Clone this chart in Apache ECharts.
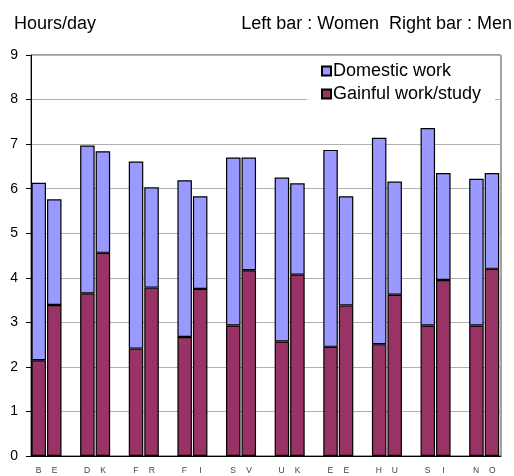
<!DOCTYPE html>
<html>
<head>
<meta charset="utf-8">
<script src="https://cdn.jsdelivr.net/npm/echarts@6/dist/echarts.min.js"></script>
<style>
html,body{margin:0;padding:0;background:#fff;}
#chart{width:514px;height:476px;}
</style>
</head>
<body>
<div id="chart"></div>
<script>
// Countries (two-letter codes)
const categories = ['BE','DK','FR','FI','SV','UK','EE','HU','SI','NO'];
// Hours/day, women (left bar)
const womenGainful  = [2.15, 3.65, 2.41, 2.67, 2.93, 2.57, 2.45, 2.51, 2.93, 2.93];
const womenDomestic = [3.98, 3.32, 4.20, 3.52, 3.77, 3.68, 4.42, 4.63, 4.43, 3.29];
// Hours/day, men (right bar)
const menGainful    = [3.39, 4.56, 3.78, 3.75, 4.17, 4.07, 3.38, 3.62, 3.95, 4.20];
const menDomestic   = [2.37, 2.28, 2.25, 2.08, 2.53, 2.05, 2.45, 2.54, 2.40, 2.15];
// Y ticks
const yMin = 0, yMax = 9, yStep = 1;

const FONT = 'Liberation Sans, Arial, sans-serif';
const COL_DOM = '#9999FF';
const COL_GAIN = '#993366';

const chart = echarts.init(document.getElementById('chart'), null, {renderer: 'canvas'});

function barSeries(name, stack, data, color) {
  return {
    name: name, type: 'bar', stack: stack,
    xAxisIndex: 1, yAxisIndex: 1,
    barWidth: 14.5, barGap: '7%',
    data: data,
    itemStyle: {color: color, borderColor: '#000', borderWidth: 1.2},
    emphasis: {disabled: true},
    animation: false
  };
}

const option = {
  animation: false,
  textStyle: {fontFamily: FONT},
  graphic: [
    {type: 'text', left: 14, top: 15, style: {text: 'Hours/day', font: '18px ' + FONT, fill: '#000'}},
    {type: 'text', right: 2, top: 15, style: {text: 'Left bar : Women  Right bar : Men', font: '18px ' + FONT, fill: '#000'}}
  ],
  grid: [
    {left: 31, right: 13, top: 55, bottom: 20, show: true, borderColor: '#444', borderWidth: 1, backgroundColor: 'transparent'},
    {left: 22.2, right: 5.5, top: 55, bottom: 20}
  ],
  legend: {
    data: ['Domestic work', 'Gainful work/study'],
    orient: 'vertical',
    left: 307, top: 57,
    padding: [5, 14, 8, 14],
    icon: 'rect',
    itemWidth: 9, itemHeight: 9, itemGap: 5,
    backgroundColor: '#fff',
    textStyle: {fontSize: 18, fontFamily: FONT, color: '#000', padding: [0, 0, 0, -3]},
    selectedMode: false
  },
  xAxis: [
    {type: 'value', gridIndex: 0, min: 0, max: 1,
     axisLine: {show: true, lineStyle: {color: '#000', width: 1}},
     axisTick: {show: false}, axisLabel: {show: false}, splitLine: {show: false}},
    {type: 'category', gridIndex: 1, data: categories,
     axisLine: {show: false}, axisTick: {show: false},
     axisLabel: {
       interval: 0, margin: 10,
       formatter: function (v) { return v.split('').map(c => '{a|' + c + '}').join(''); },
       rich: {a: {width: 16, align: 'center', fontSize: 8.5, color: '#444', fontFamily: FONT}}
     }}
  ],
  yAxis: [
    {type: 'value', gridIndex: 0, min: yMin, max: yMax, interval: yStep,
     axisLine: {show: true, lineStyle: {color: '#000', width: 1}},
     axisTick: {show: true, inside: false, length: 5, lineStyle: {color: '#000'}},
     axisLabel: {fontSize: 14, color: '#000', margin: 13, fontFamily: FONT},
     splitLine: {show: true, lineStyle: {color: '#b0b0b0', width: 1}}},
    {type: 'value', gridIndex: 1, min: yMin, max: yMax, interval: yStep, show: false,
     splitLine: {show: false}}
  ],
  series: [
    barSeries('Gainful work/study', 'W', womenGainful, COL_GAIN),
    barSeries('Domestic work', 'W', womenDomestic, COL_DOM),
    barSeries('Gainful work/study', 'M', menGainful, COL_GAIN),
    barSeries('Domestic work', 'M', menDomestic, COL_DOM)
  ]
};
chart.setOption(option);
</script>
</body>
</html>
